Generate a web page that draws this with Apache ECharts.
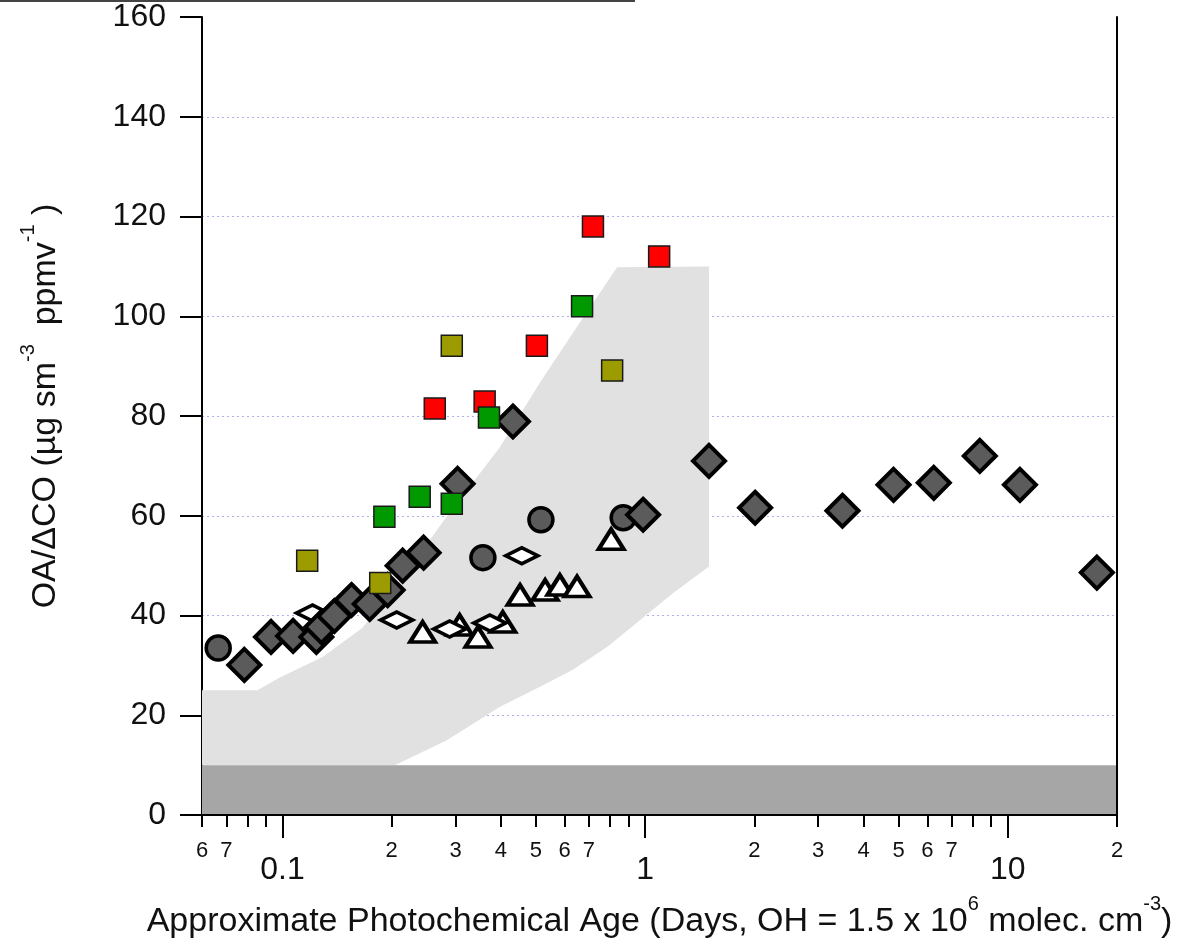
<!DOCTYPE html>
<html><head><meta charset="utf-8">
<script src="https://cdn.jsdelivr.net/npm/echarts@6/dist/echarts.min.js"></script>
<style>html,body{margin:0;padding:0;background:#fff}#c{width:1179px;height:944px}</style>
</head><body><div id="c"></div>
<script>
// ---- data ----
const diamondX = [0.0785, 0.093, 0.107, 0.124, 0.128, 0.139, 0.155, 0.174, 0.195, 0.2145, 0.245, 0.304, 0.432, 0.987, 1.50, 2.01, 3.50, 4.84, 6.25, 8.37, 10.8, 17.6];
const diamondY = [30.1, 35.7, 35.9, 35.7, 37.7, 39.9, 43.1, 42.3, 45.1, 50.0, 52.6, 66.4, 78.9, 60.2, 71.0, 61.6, 61.0, 66.2, 66.6, 72.0, 66.2, 48.6];
const circleX = [0.0665, 0.357, 0.516, 0.870];
const circleY = [33.5, 51.6, 59.2, 59.6];
const openDiamondX = [0.121, 0.2065, 0.289, 0.373, 0.457];
const openDiamondY = [40.5, 39.1, 37.3, 38.5, 52.0];
const triangleX = [0.2435, 0.308, 0.346, 0.405, 0.452, 0.530, 0.582, 0.649, 0.806];
const triangleY = [36.7, 38.1, 35.7, 38.7, 44.1, 45.1, 46.1, 45.8, 55.3];
const redX = [0.263, 0.361, 0.503, 0.718, 1.093];
const redY = [81.5, 82.9, 94.1, 118.0, 112.0];
const greenX = [0.191, 0.239, 0.293, 0.371, 0.670];
const greenY = [59.8, 63.8, 62.4, 79.7, 102.0];
const oliveX = [0.117, 0.186, 0.293, 0.811];
const oliveY = [51.0, 46.5, 94.1, 89.1];
// shaded envelope (light grey)
const envUpperX = [0.06, 0.0853, 0.098, 0.129, 0.166, 0.22, 0.277, 0.398, 0.513, 0.649, 0.837, 1.5];
const envUpperY = [25, 25, 27.5, 31.7, 37.5, 48.6, 58.8, 73.8, 86.7, 97.9, 109.8, 110];
const envLowerX = [0.06, 0.204, 0.284, 0.398, 0.513, 0.632, 0.785, 0.969, 1.195, 1.5];
const envLowerY = [10, 10, 15.0, 21.7, 25.7, 29.1, 33.7, 39.1, 44.5, 49.8];
// background band (dark grey)
const bandX = [0.06, 20];
const bandY = [0, 10];
// axis ticks
const minorTickValues = [0.06,0.07,0.08,0.09,0.2,0.3,0.4,0.5,0.6,0.7,0.8,0.9,2,3,4,5,6,7,8,9,20];
const minorLabelValues = [0.06,0.07,0.2,0.3,0.4,0.5,0.6,0.7,2,3,4,5,6,7,20];
const minorLabelTexts = ['6','7','2','3','4','5','6','7','2','3','4','5','6','7','2'];
const majorTickValues = [0.1, 1, 10];
const majorLabelTexts = ['0.1', '1', '10'];
const xMin = 0.06, xMax = 20, yMin = 0, yMax = 160, yStep = 20;

// ---- chart ----
const FONT = '"Liberation Sans", Arial, Helvetica, sans-serif';
const pairs = (xs, ys) => xs.map((x, i) => [x, ys[i]]);
function nearestLabel(v, values, texts) {
  let best = 0, bd = Infinity;
  values.forEach((t, i) => { const d = Math.abs(Math.log10(v) - Math.log10(t)); if (d < bd) { bd = d; best = i; } });
  return bd < 0.01 ? texts[best] : '';
}
const envPts = pairs(envUpperX, envUpperY).concat(pairs(envLowerX, envLowerY).reverse());
const bandPts = [[bandX[0], bandY[0]], [bandX[1], bandY[0]], [bandX[1], bandY[1]], [bandX[0], bandY[1]]];
function polySeries(pts, color, z) {
  return {
    type: 'custom', z: z, silent: true, xAxisIndex: 0, yAxisIndex: 0,
    data: [pts[0]],
    renderItem: (params, api) => ({
      type: 'polygon',
      shape: { points: pts.map(p => api.coord(p)) },
      style: { fill: color }
    })
  };
}
function scatter(xs, ys, symbol, size, fill, border, bw, z) {
  return {
    type: 'scatter', xAxisIndex: 0, yAxisIndex: 0, z: z, silent: true,
    symbol: symbol, symbolSize: size,
    itemStyle: { color: fill, borderColor: border, borderWidth: bw, opacity: 1 },
    data: pairs(xs, ys)
  };
}
const richTitle = {
  m: { fontSize: 34, lineHeight: 56, fontFamily: FONT, color: '#111' },
  s: { fontSize: 20, lineHeight: 20, fontFamily: FONT, color: '#111', verticalAlign: 'top' }
};
const chart = echarts.init(document.getElementById('c'), null, { renderer: 'canvas' });
chart.setOption({
  animation: false,
  backgroundColor: '#fff',
  grid: { left: 202, right: 62, top: 17, bottom: 129, containLabel: false },
  graphic: [{ type: 'line', shape: { x1: 0, y1: 1, x2: 635, y2: 1 }, style: { stroke: '#444', lineWidth: 2 } }],
  xAxis: [
    {
      type: 'log', logBase: 10, min: xMin, max: xMax, position: 'bottom', z: 5,
      axisLine: { show: true, lineStyle: { color: '#000', width: 2 } },
      axisTick: { show: true, customValues: minorTickValues, length: 12, lineStyle: { color: '#000', width: 2 } },
      axisLabel: { show: true, customValues: minorLabelValues, fontSize: 22, margin: 25, color: '#111', fontFamily: FONT,
        formatter: v => nearestLabel(v, minorLabelValues, minorLabelTexts) },
      splitLine: { show: false }, minorTick: { show: false },
      name: '{m|Approximate Photochemical Age (Days, OH = 1.5 x 10}{s|6}{m| molec. cm}{s|-3}{m|)}',
      nameLocation: 'middle', nameGap: 79,
      nameTextStyle: { rich: richTitle, fontSize: 34, fontFamily: FONT, color: '#111' }
    },
    {
      type: 'log', logBase: 10, min: xMin, max: xMax, position: 'bottom', z: 5,
      axisLine: { show: false },
      axisTick: { show: true, customValues: majorTickValues, length: 23, lineStyle: { color: '#000', width: 2 } },
      axisLabel: { show: true, customValues: majorTickValues, fontSize: 32, margin: 39, color: '#111', fontFamily: FONT,
        formatter: v => nearestLabel(v, majorTickValues, majorLabelTexts) },
      splitLine: { show: false }
    }
  ],
  yAxis: [
    {
      type: 'value', min: yMin, max: yMax, interval: yStep, position: 'left', z: 0,
      axisLine: { show: true, lineStyle: { color: '#000', width: 2 } },
      axisTick: { show: true, length: 22, lineStyle: { color: '#000', width: 2 } },
      axisLabel: { fontSize: 32, margin: 36, color: '#111', fontFamily: FONT },
      splitLine: { show: true, showMinLine: false, showMaxLine: false, lineStyle: { color: '#aeb2ec', width: 1, type: [2, 3] } },
      name: '{m|OA/ΔCO (µg sm}{s|-3}{m|  ppmv}{s|-1}{m| )}',
      nameLocation: 'middle', nameRotate: 90, nameGap: 128,
      nameTextStyle: { rich: richTitle, fontSize: 34, fontFamily: FONT, color: '#111', padding: [0, 0, 0, 20] }
    },
    {
      type: 'value', min: yMin, max: yMax, interval: yStep, position: 'right', z: 5,
      axisLine: { show: true, lineStyle: { color: '#000', width: 2 } },
      axisTick: { show: false }, axisLabel: { show: false }, splitLine: { show: false }
    }
  ],
  series: [
    polySeries(envPts, '#e1e1e1', 1),
    polySeries(bandPts, '#a6a6a6', 1),
    scatter(triangleX, triangleY, 'triangle', [25, 20], '#ffffff', '#000', 4, 3),
    scatter(openDiamondX, openDiamondY, 'diamond', [32, 16], '#ffffff', '#000', 4, 3),
    scatter(circleX, circleY, 'circle', 24, '#5b5b5b', '#000', 3.5, 4),
    scatter(diamondX, diamondY, 'diamond', 32, '#5b5b5b', '#000', 4, 4),
    scatter(redX, redY, 'rect', 21, '#ff0000', '#1a1a1a', 1.5, 5),
    scatter(greenX, greenY, 'rect', 21, '#009a00', '#1a1a1a', 1.5, 5),
    scatter(oliveX, oliveY, 'rect', 21, '#9c9c00', '#1a1a1a', 1.5, 5)
  ]
});
</script></body></html>
